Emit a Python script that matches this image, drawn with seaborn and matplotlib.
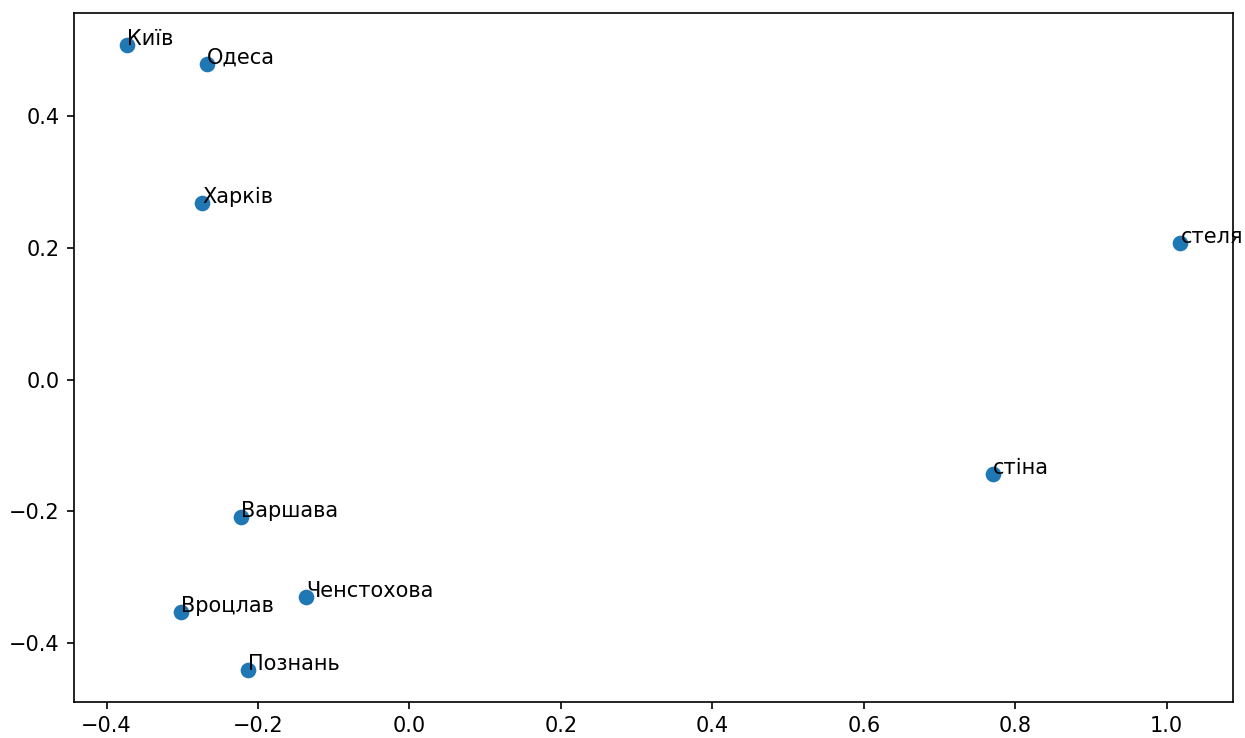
import matplotlib
matplotlib.use("Agg")
import matplotlib.pyplot as plt
import pandas as pd
import seaborn as sns

# 2-D embedding coordinates of each word
words = ["Київ", "Одеса", "Харків", "стеля", "стіна",
         "Варшава", "Ченстохова", "Вроцлав", "Познань"]
x_vals = [-0.373, -0.268, -0.274, 1.018, 0.770,
          -0.223, -0.136, -0.302, -0.213]
y_vals = [0.509, 0.480, 0.269, 0.208, -0.144,
          -0.209, -0.331, -0.354, -0.442]

df = pd.DataFrame({"word": words, "x": x_vals, "y": y_vals})

DPI = 150
fig, ax = plt.subplots(figsize=(1245 / DPI, 738 / DPI), dpi=DPI)
fig.subplots_adjust(left=0.0597, right=0.9904, top=0.982, bottom=0.0492)

sns.scatterplot(data=df, x="x", y="y", ax=ax, s=36,
                color="#1f77b4", edgecolor="#1f77b4", linewidth=1.5)

for w, xv, yv in zip(df["word"], df["x"], df["y"]):
    ax.text(xv, yv, w, fontsize=10)

ax.set_xlabel("")
ax.set_ylabel("")

fig.savefig("out.png", dpi=DPI)
